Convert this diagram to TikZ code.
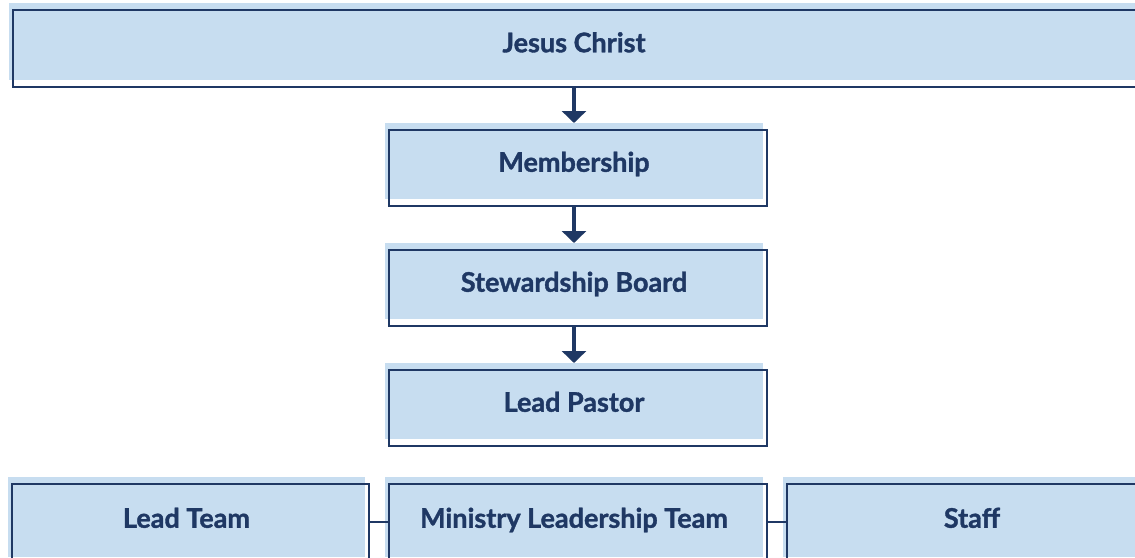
\documentclass[tikz,border=0pt]{standalone}
\usepackage{fontspec}
\setmainfont{Lato}[BoldFont={Lato Bold}, BoldFeatures={FakeBold=1.3}]
\usepackage{xcolor}
\usetikzlibrary{arrows.meta, positioning}
\definecolor{navy}{HTML}{1F3864}
\definecolor{boxblue}{HTML}{C7DDF0}
\tikzset{
  orgnode/.style={rectangle, fill=boxblue, text=navy, font=\bfseries\fontsize{27}{32}\selectfont, text height=25.5pt, text depth=4pt, minimum width=378pt, minimum height=76pt, inner sep=0pt, outer sep=0pt, postaction={draw=navy, line width=2pt, transform canvas={shift={(4pt,-6.5pt)}}}},
  arrow/.style={-{Triangle[width=24pt,length=12pt]}, line width=3.5pt, draw=navy},
  link/.style={line width=2.5pt, draw=navy}
}

\begin{document}
\begin{tikzpicture}[x=1pt, y=-1pt]
\useasboundingbox (0,0) rectangle (1135,557);

% Nodes
\node[orgnode, minimum width=1130pt, minimum height=77pt] (jesus) at (574,41.5) {Jesus Christ};
\node[orgnode, below=43pt of jesus] (member) {Membership};
\node[orgnode, below=44pt of member] (steward) {Stewardship Board};
\node[orgnode, below=44pt of steward] (pastor) {Lead Pastor};
\node[orgnode, below=38pt of pastor, minimum height=80pt] (mlt) {Ministry Leadership Team};
\node[orgnode, left=20pt of mlt, minimum width=357pt, minimum height=80pt] (leadteam) {Lead Team};
\node[orgnode, right=20pt of mlt, minimum height=80pt] (staff) {Staff};

% Connections
\draw[arrow] ([yshift=-6.5pt]jesus.south) -- (member.north);
\draw[arrow] ([yshift=-6.5pt]member.south) -- (steward.north);
\draw[arrow] ([yshift=-6.5pt]steward.south) -- (pastor.north);
\draw[link] ([shift={(4pt,-5pt)}]leadteam.east) -- ([shift={(4pt,-5pt)}]mlt.west);
\draw[link] ([shift={(4pt,-5pt)}]mlt.east) -- ([shift={(4pt,-5pt)}]staff.west);

\end{tikzpicture}
\end{document}
